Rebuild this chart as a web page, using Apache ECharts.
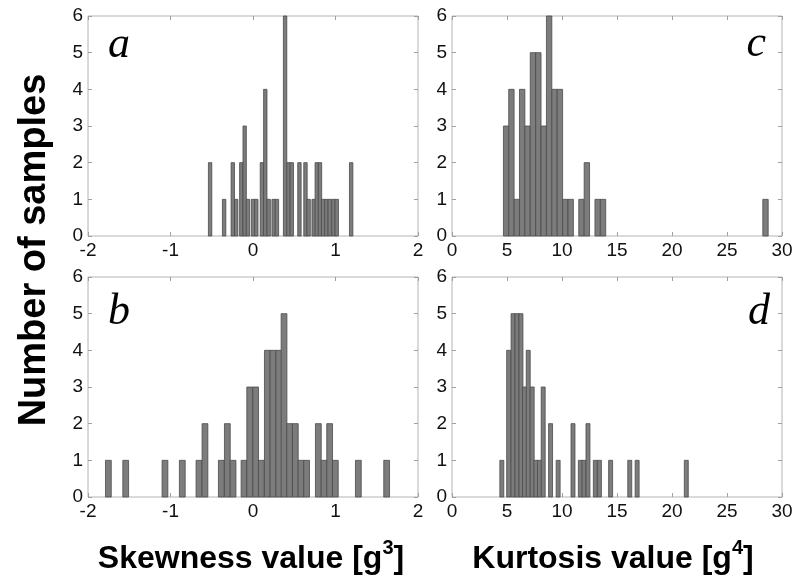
<!DOCTYPE html>
<html>
<head>
<meta charset="utf-8">
<title>Skewness and kurtosis histograms</title>
<script src="https://cdn.jsdelivr.net/npm/echarts@6/dist/echarts.min.js"></script>
<style>
  html, body { margin: 0; padding: 0; background: #fff; }
  #chart { width: 798px; height: 586px; }
</style>
</head>
<body>
<div id="chart"></div>
<script>
// bin centres and sample counts
const aCenters = [-0.52, -0.35, -0.245, -0.204, -0.142, -0.101, -0.061, 0.0, 0.04, 0.108, 0.149, 0.19,
  0.25, 0.29, 0.389, 0.43, 0.47, 0.563, 0.636, 0.674, 0.735, 0.773, 0.812, 0.85, 0.89, 0.93, 0.975, 1.015, 1.19];
const aCounts = [2, 1, 2, 1, 2, 3, 1, 1, 1, 2, 4, 1, 1, 1, 6, 2, 2, 2, 2, 1, 1, 2, 2, 1, 1, 1, 1, 1, 2];

const bCenters = [-1.753, -1.543, -1.067, -0.857, -0.655, -0.582, -0.384, -0.311, -0.242, -0.109, -0.04,
  0.032, 0.101, 0.174, 0.242, 0.311, 0.376, 0.444, 0.513, 0.582, 0.65, 0.792, 0.861, 0.929, 0.998, 1.277, 1.62];
const bCounts = [1, 1, 1, 1, 1, 2, 1, 2, 1, 1, 3, 3, 1, 4, 4, 4, 5, 2, 2, 1, 1, 2, 1, 2, 1, 1, 1];

const cCenters = [4.92, 5.4, 5.9, 6.38, 6.87, 7.36, 7.85, 8.34, 8.83, 9.32, 9.81, 10.3, 10.79, 11.77, 12.26,
  13.24, 13.73, 28.5];
const cCounts = [3, 4, 1, 4, 3, 5, 5, 3, 6, 4, 4, 1, 1, 1, 2, 1, 1, 1];

const dCenters = [4.53, 5.15, 5.55, 5.91, 6.27, 6.6, 6.93, 7.29, 7.63, 7.95, 8.29, 8.96, 9.65, 11.0, 11.67,
  12.0, 12.36, 13.03, 13.4, 14.42, 16.16, 16.83, 21.3];
const dCounts = [1, 4, 5, 5, 5, 3, 4, 3, 1, 1, 3, 2, 1, 2, 1, 1, 2, 1, 1, 1, 1, 1, 1];

const aBin = 0.041;
const bBin = 0.07;
const cBin = 0.49;
const dBin = 0.36;

const skewRange = [-2, 2, 1];
const kurtRange = [0, 30, 5];
const countRange = [0, 6, 1];

const panels = [
  { centers: aCenters, counts: aCounts, bin: aBin, range: skewRange, grid: { left: 88, top: 16, width: 330, height: 220 } },
  { centers: bCenters, counts: bCounts, bin: bBin, range: skewRange, grid: { left: 88, top: 277, width: 330, height: 220 } },
  { centers: cCenters, counts: cCounts, bin: cBin, range: kurtRange, grid: { left: 452, top: 16, width: 330, height: 220 } },
  { centers: dCenters, counts: dCounts, bin: dBin, range: kurtRange, grid: { left: 452, top: 277, width: 330, height: 220 } },
];

const tickFont = { fontFamily: 'Liberation Sans, Arial, sans-serif', fontSize: 19, color: '#111' };

function histBars(width) {
  return function (params, api) {
    const x = api.value(0);
    const top = api.coord([x - width / 2, api.value(1)]);
    const base = api.coord([x + width / 2, 0]);
    return {
      type: 'rect',
      shape: { x: top[0], y: top[1], width: base[0] - top[0], height: base[1] - top[1] },
      style: api.style(),
    };
  };
}

function xAxisFor(p, i, top) {
  return {
    type: 'value',
    gridIndex: i,
    position: top ? 'top' : 'bottom',
    min: p.range[0],
    max: p.range[1],
    interval: p.range[2],
    axisLine: { show: false, onZero: false },
    axisTick: { show: true, inside: true, length: 4, lineStyle: { color: '#a0a0a0' } },
    axisLabel: top ? { show: false } : Object.assign({ margin: 5, showMinLabel: true, showMaxLabel: true }, tickFont),
    splitLine: { show: false },
  };
}

function yAxisFor(i, right) {
  return {
    type: 'value',
    gridIndex: i,
    position: right ? 'right' : 'left',
    min: countRange[0],
    max: countRange[1],
    interval: countRange[2],
    axisLine: { show: false, onZero: false },
    axisTick: { show: true, inside: true, length: 4, lineStyle: { color: '#a0a0a0' } },
    axisLabel: right ? { show: false } : Object.assign({ margin: 5, showMinLabel: true, showMaxLabel: true }, tickFont),
    splitLine: { show: false },
  };
}

const chart = echarts.init(document.getElementById('chart'));

const letterFont = 'italic 44px "Liberation Serif", "Times New Roman", serif';
const titleRich = {
  t: { fontFamily: 'Liberation Sans, Arial, sans-serif', fontWeight: 'bold', fontSize: 32, color: '#000' },
  s: { fontFamily: 'Liberation Sans, Arial, sans-serif', fontWeight: 'bold', fontSize: 20, color: '#000', padding: [0, 0, 21, 0] },
};

const option = {
  animation: false,
  backgroundColor: '#fff',
  grid: panels.map(p => Object.assign({ show: true, borderColor: '#b4b4b4', borderWidth: 1 }, p.grid)),
  xAxis: panels.flatMap((p, i) => [xAxisFor(p, i, false), xAxisFor(p, i, true)]),
  yAxis: panels.flatMap((p, i) => [yAxisFor(i, false), yAxisFor(i, true)]),
  series: panels.map((p, i) => ({
    type: 'custom',
    xAxisIndex: 2 * i,
    yAxisIndex: 2 * i,
    renderItem: histBars(p.bin),
    encode: { x: 0, y: 1 },
    itemStyle: { color: '#7c7c7c', borderColor: '#4a4a4a', borderWidth: 0.8 },
    data: p.centers.map((c, k) => [c, p.counts[k]]),
  })),
  graphic: [
    {
      type: 'text', x: 35, y: 250, rotation: Math.PI / 2,
      style: {
        text: 'Number of samples', x: 0, y: 0, align: 'center', verticalAlign: 'middle',
        font: 'bold 38px "Liberation Sans", Arial, sans-serif', fill: '#000',
      },
    },
    {
      type: 'text', x: 251, y: 559,
      style: { text: '{t|Skewness value [g}{s|3}{t|]}', align: 'center', verticalAlign: 'middle', rich: titleRich },
    },
    {
      type: 'text', x: 613, y: 559,
      style: { text: '{t|Kurtosis value [g}{s|4}{t|]}', align: 'center', verticalAlign: 'middle', rich: titleRich },
    },
    { type: 'text', x: 108, y: 45, style: { text: 'a', align: 'left', verticalAlign: 'middle', font: letterFont, fill: '#000' } },
    { type: 'text', x: 108, y: 312, style: { text: 'b', align: 'left', verticalAlign: 'middle', font: letterFont, fill: '#000' } },
    { type: 'text', x: 766, y: 44, style: { text: 'c', align: 'right', verticalAlign: 'middle', font: letterFont, fill: '#000' } },
    { type: 'text', x: 770, y: 312, style: { text: 'd', align: 'right', verticalAlign: 'middle', font: letterFont, fill: '#000' } },
  ],
};

chart.setOption(option);
</script>
</body>
</html>
